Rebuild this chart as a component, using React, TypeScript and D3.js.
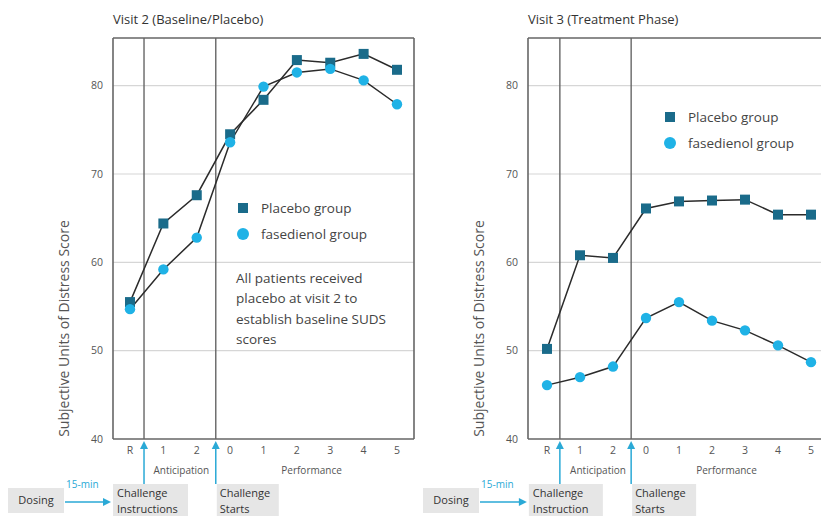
import React from "react";
import * as d3 from "d3";

const categories = ["R", "1", "2", "0", "1", "2", "3", "4", "5"];
const yTicks = [40, 50, 60, 70, 80];
const v2Placebo = [55.5, 64.4, 67.6, 74.5, 78.4, 82.9, 82.6, 83.6, 81.8];
const v2Fasedienol = [54.7, 59.2, 62.8, 73.6, 79.9, 81.5, 81.9, 80.6, 77.9];
const v3Placebo = [50.2, 60.8, 60.5, 66.1, 66.9, 67.0, 67.1, 65.4, 65.4];
const v3Fasedienol = [46.1, 47.0, 48.2, 53.7, 55.5, 53.4, 52.3, 50.6, 48.7];
const seriesNames = ["Placebo group", "fasedienol group"];
const annotationLines = [
  "All patients received",
  "placebo at visit 2 to",
  "establish baseline SUDS",
  "scores",
];

const FONT = "'Open Sans', 'Segoe UI', sans-serif";
const DARK = "#1a6b8a";
const LIGHT = "#1fb2e6";
const ARROW = "#2aa9d6";

type PanelProps = {
  title: string;
  left: number;
  right: number;
  firstX: number;
  lastX: number;
  events: number[];
  placebo: number[];
  fased: number[];
  legendX: number;
  legendY: number;
  annotation: boolean;
  dosingX: number;
  instrLabel: string[];
  instrW: number;
  startsW: number;
  clipId: string;
};

function Panel(p: PanelProps) {
  const top = 38;
  const bottom = 439;
  const y = d3.scaleLinear().domain([40, 85.4]).range([bottom, top]);
  const x = d3.scaleLinear().domain([0, categories.length - 1]).range([p.firstX, p.lastX]);
  const line = d3
    .line<number>()
    .x((_, i) => x(i))
    .y((d) => y(d));
  const ev1 = x(p.events[0]);
  const ev2 = x(p.events[1]);
  const sq = 10;
  const boxTop = 484;
  return (
    <g>
      <text x={p.left} y={24} fontSize={13} fill="#333" fontFamily={FONT}>
        {p.title}
      </text>
      {yTicks.slice(1).map((t) => (
        <line key={t} x1={p.left} x2={p.right} y1={y(t)} y2={y(t)} stroke="#d6d6d6" strokeWidth={1.2} />
      ))}
      {yTicks.map((t) => (
        <text key={t} x={p.left - 10} y={y(t)} dy="0.35em" textAnchor="end" fontSize={10.5} fill="#555" fontFamily={FONT}>
          {t}
        </text>
      ))}
      <text
        transform={`translate(${p.left - 44},${(top + bottom) / 2 + 90}) rotate(-90)`}
        textAnchor="middle"
        fontSize={14}
        fill="#555"
        fontFamily={FONT}
      >
        Subjective Units of Distress Score
      </text>
      {/* frame */}
      <line x1={p.left} x2={p.right} y1={top} y2={top} stroke="#666" strokeWidth={1.6} />
      <line x1={p.left} x2={p.right} y1={bottom} y2={bottom} stroke="#666" strokeWidth={1.6} />
      <line x1={p.left} x2={p.left} y1={top} y2={bottom} stroke="#666" strokeWidth={1.6} />
      <line x1={p.right} x2={p.right} y1={top} y2={bottom} stroke="#666" strokeWidth={1.6} />
      <line x1={ev1} x2={ev1} y1={top} y2={bottom} stroke="#666" strokeWidth={1.4} />
      <line x1={ev2} x2={ev2} y1={top} y2={bottom} stroke="#666" strokeWidth={1.4} />
      {/* lines */}
      <path d={line(p.placebo) || ""} fill="none" stroke="#2b2b2b" strokeWidth={1.5} />
      <path d={line(p.fased) || ""} fill="none" stroke="#2b2b2b" strokeWidth={1.5} />
      {p.placebo.map((v, i) => (
        <rect key={"p" + i} x={x(i) - sq / 2} y={y(v) - sq / 2} width={sq} height={sq} fill={DARK} />
      ))}
      {p.fased.map((v, i) => (
        <circle key={"f" + i} cx={x(i)} cy={y(v)} r={5.2} fill={LIGHT} />
      ))}
      {/* x ticks */}
      {categories.map((c, i) => (
        <text key={i} x={x(i)} y={454} textAnchor="middle" fontSize={10.5} fill="#555" fontFamily={FONT}>
          {c}
        </text>
      ))}
      <text x={(x(0) + x(2)) / 2 + 18} y={474} textAnchor="middle" fontSize={10} fill="#555" fontFamily={FONT}>
        Anticipation
      </text>
      <text x={(x(3) + x(8)) / 2 - 2} y={474} textAnchor="middle" fontSize={10} fill="#555" fontFamily={FONT}>
        Performance
      </text>
      {/* legend */}
      <rect x={p.legendX - 5} y={p.legendY - 5} width={10} height={10} fill={DARK} />
      <text x={p.legendX + 18} y={p.legendY} dy="0.35em" fontSize={13.5} fill="#444" fontFamily={FONT}>
        {seriesNames[0]}
      </text>
      <circle cx={p.legendX} cy={p.legendY + 26} r={6} fill={LIGHT} />
      <text x={p.legendX + 18} y={p.legendY + 26} dy="0.35em" fontSize={13.5} fill="#444" fontFamily={FONT}>
        {seriesNames[1]}
      </text>
      {p.annotation &&
        annotationLines.map((t, i) => (
          <text key={i} x={p.legendX - 7} y={278 + i * 20.5} dy="0.35em" fontSize={13.5} fill="#444" fontFamily={FONT}>
            {t}
          </text>
        ))}
      {/* bottom timeline */}
      <rect x={p.dosingX} y={488} width={56} height={25} fill="#e6e6e6" />
      <text x={p.dosingX + 28} y={500.5} dy="0.35em" textAnchor="middle" fontSize={11} fill="#333" fontFamily={FONT}>
        Dosing
      </text>
      <text x={p.dosingX + 58} y={488} fontSize={10} fill={ARROW} fontFamily={FONT}>
        15-min
      </text>
      <line x1={p.dosingX + 57} x2={ev1 - 38} y1={502} y2={502} stroke={ARROW} strokeWidth={1.4} />
      <path d={`M${ev1 - 33},502 L${ev1 - 41},498 L${ev1 - 41},506 Z`} fill={ARROW} />
      <rect x={ev1 - 31} y={boxTop} width={p.instrW} height={34} fill="#e6e6e6" />
      <text x={ev1 - 27} y={497} fontSize={11} fill="#333" fontFamily={FONT}>
        {p.instrLabel[0]}
      </text>
      <text x={ev1 - 27} y={513} fontSize={11} fill="#333" fontFamily={FONT}>
        {p.instrLabel[1]}
      </text>
      <rect x={ev2 + 1} y={boxTop} width={p.startsW} height={34} fill="#e6e6e6" />
      <text x={ev2 + 4} y={497} fontSize={11} fill="#333" fontFamily={FONT}>
        Challenge
      </text>
      <text x={ev2 + 4} y={513} fontSize={11} fill="#333" fontFamily={FONT}>
        Starts
      </text>
      {[ev1, ev2].map((ex, i) => (
        <g key={i}>
          <line x1={ex} x2={ex} y1={boxTop} y2={446} stroke={ARROW} strokeWidth={1.5} />
          <path d={`M${ex},441 L${ex - 4},449 L${ex + 4},449 Z`} fill={ARROW} />
        </g>
      ))}
    </g>
  );
}

export default function App() {
  return (
    <svg width={821} height={516} style={{ position: "absolute", left: 0, top: 0, background: "#fff" }}>
      <rect width={821} height={516} fill="#fff" />
      <Panel
        title="Visit 2 (Baseline/Placebo)"
        left={113}
        right={414}
        firstX={130}
        lastX={397}
        events={[0.42, 2.57]}
        placebo={v2Placebo}
        fased={v2Fasedienol}
        legendX={243}
        legendY={208}
        annotation={true}
        dosingX={8}
        instrLabel={["Challenge", "Instructions"]}
        instrW={75}
        startsW={62}
        clipId="c1"
      />
      <Panel
        title="Visit 3 (Treatment Phase)"
        left={528}
        right={835}
        firstX={547}
        lastX={811}
        events={[0.39, 2.55]}
        placebo={v3Placebo}
        fased={v3Fasedienol}
        legendX={670}
        legendY={117}
        annotation={false}
        dosingX={423}
        instrLabel={["Challenge", "Instruction"]}
        instrW={74}
        startsW={64}
        clipId="c2"
      />
    </svg>
  );
}
